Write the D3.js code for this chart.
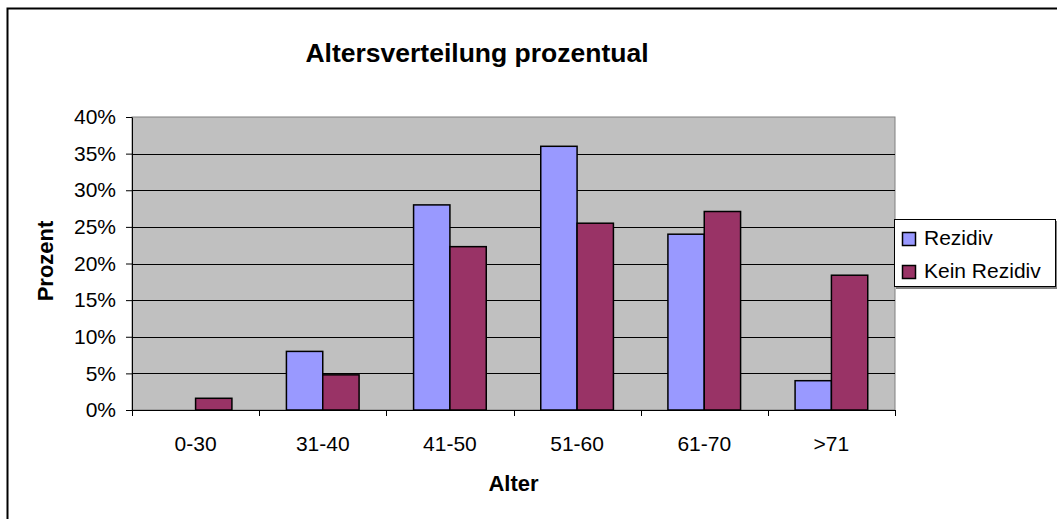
<!DOCTYPE html>
<html>
<head>
<meta charset="utf-8">
<script src="https://cdn.jsdelivr.net/npm/d3@7/dist/d3.min.js"></script>
<style>
  html, body { margin: 0; padding: 0; background: #fff; }
  svg { display: block; font-family: "Liberation Sans", Arial, sans-serif; }
</style>
</head>
<body>
<svg id="chart" width="1057" height="519"></svg>
<script>
// Age groups and share of patients per group (in percent)
const categories = ["0-30", "31-40", "41-50", "51-60", "61-70", ">71"];
const seriesNames = ["Rezidiv", "Kein Rezidiv"];
const rezidiv = [0, 8, 28, 36, 24, 4];
const keinRezidiv = [1.6, 4.8, 22.3, 25.5, 27.1, 18.4];
const yTicks = [0, 5, 10, 15, 20, 25, 30, 35, 40];
const colors = ["#9999FF", "#993366"];

const svg = d3.select("#chart");
const W = 1057, H = 519;
const plot = { left: 132, right: 895, top: 117, bottom: 410 };

// Chart area frame (runs off the right and bottom edges)
svg.append("rect")
  .attr("x", 7.5).attr("y", 8.5)
  .attr("width", W + 20).attr("height", H + 20)
  .attr("fill", "#fff").attr("stroke", "#000").attr("stroke-width", 2);

const x = d3.scaleBand().domain(categories).range([plot.left, plot.right]).padding(0);
const xs = d3.scaleBand().domain(seriesNames).range([0, x.bandwidth()])
  .paddingInner(0).paddingOuter(0.75);
const y = d3.scaleLinear().domain([0, 40]).range([plot.bottom, plot.top]);

// Plot area background
svg.append("rect")
  .attr("x", plot.left).attr("y", plot.top)
  .attr("width", plot.right - plot.left).attr("height", plot.bottom - plot.top)
  .attr("fill", "#C0C0C0").attr("stroke", "#808080").attr("stroke-width", 1);

// Horizontal gridlines
svg.append("g").selectAll("line")
  .data(yTicks.filter(t => t > 0 && t < 40))
  .join("line")
  .attr("x1", plot.left).attr("x2", plot.right)
  .attr("y1", d => Math.round(y(d)) + 0.5).attr("y2", d => Math.round(y(d)) + 0.5)
  .attr("stroke", "#000").attr("stroke-width", 1);

// Bars
const rows = categories.map((c, i) => ({ cat: c, values: [rezidiv[i], keinRezidiv[i]] }));
const groups = svg.append("g").selectAll("g")
  .data(rows).join("g")
  .attr("transform", d => `translate(${x(d.cat)},0)`);
groups.selectAll("rect")
  .data(d => d.values.map((v, k) => ({ name: seriesNames[k], v, k })).filter(e => e.v > 0))
  .join("rect")
  .attr("x", d => xs(d.name))
  .attr("y", d => y(d.v))
  .attr("width", xs.bandwidth())
  .attr("height", d => y(0) - y(d.v))
  .attr("fill", d => colors[d.k])
  .attr("stroke", "#000").attr("stroke-width", 1.5);

// Y axis
const yAxis = svg.append("g")
  .attr("transform", `translate(${plot.left},0)`)
  .call(d3.axisLeft(y).tickValues(yTicks).tickFormat(d => d + "%").tickSize(6).tickPadding(10).tickSizeOuter(0));
yAxis.select(".domain").attr("stroke", "#000");
yAxis.selectAll("text").attr("font-size", 21).attr("fill", "#000")
  .attr("font-family", "Liberation Sans, Arial, sans-serif");

// X axis: tick marks at category boundaries, labels centred in each band
const xAxis = svg.append("g")
  .attr("transform", `translate(0,${plot.bottom})`)
  .call(d3.axisBottom(x).tickSize(0).tickPadding(26).tickSizeOuter(0));
xAxis.select(".domain").attr("stroke", "#000");
xAxis.selectAll("text").attr("font-size", 21).attr("fill", "#000")
  .attr("font-family", "Liberation Sans, Arial, sans-serif");
const bounds = categories.map(c => x(c)).concat([x.range()[1]]);
xAxis.append("g").selectAll("line").data(bounds).join("line")
  .attr("x1", d => Math.round(d) + 0.5).attr("x2", d => Math.round(d) + 0.5)
  .attr("y1", 0).attr("y2", 6).attr("stroke", "#000");

// Title
svg.append("text")
  .attr("x", 477).attr("y", 62)
  .attr("text-anchor", "middle")
  .attr("font-size", 26.5).attr("font-weight", "bold")
  .text("Altersverteilung prozentual");

// Axis titles
svg.append("text")
  .attr("transform", "translate(53,261) rotate(-90)")
  .attr("text-anchor", "middle")
  .attr("font-size", 22).attr("font-weight", "bold")
  .text("Prozent");
svg.append("text")
  .attr("x", (plot.left + plot.right) / 2).attr("y", 491)
  .attr("text-anchor", "middle")
  .attr("font-size", 22).attr("font-weight", "bold")
  .text("Alter");

// Legend
const lg = svg.append("g").attr("transform", "translate(894,219)");
lg.append("rect").attr("x", 2).attr("y", 2).attr("width", 162).attr("height", 68).attr("fill", "#808080");
lg.append("rect").attr("x", 0.5).attr("y", 0.5).attr("width", 161).attr("height", 67)
  .attr("fill", "#fff").attr("stroke", "#000");
const items = lg.selectAll("g.item").data(seriesNames).join("g")
  .attr("class", "item")
  .attr("transform", (d, i) => `translate(0,${i * 33})`);
items.append("rect")
  .attr("x", 8.5).attr("y", 13.5).attr("width", 13).attr("height", 13)
  .attr("fill", (d, i) => colors[i]).attr("stroke", "#000").attr("stroke-width", 1.5);
items.append("text")
  .attr("x", 30).attr("y", 26)
  .attr("font-size", 21)
  .text(d => d);
</script>
</body>
</html>
